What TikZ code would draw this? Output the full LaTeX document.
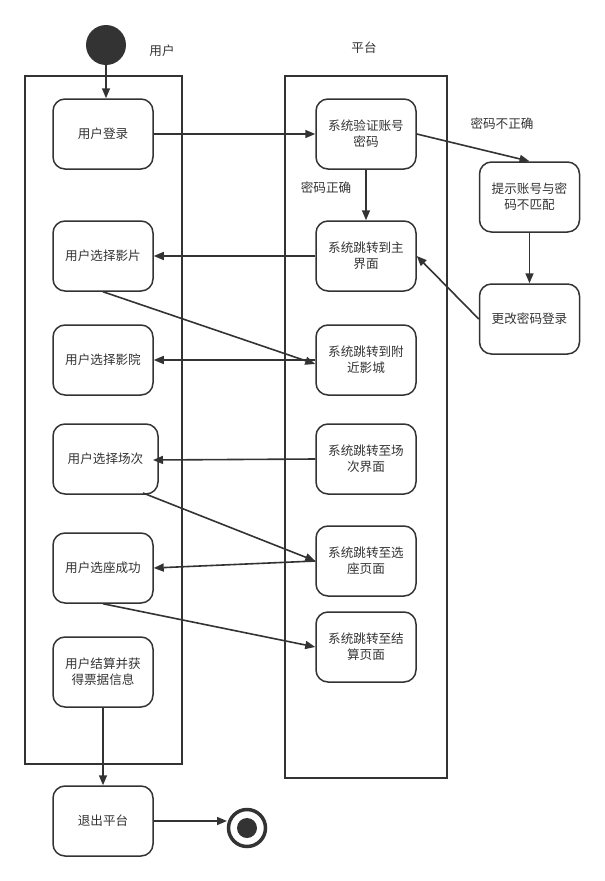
\documentclass[tikz,border=0pt]{standalone}
\usepackage{fontspec}
\newfontfamily\cjk{Noto Sans CJK SC}
\usetikzlibrary{arrows.meta}
\definecolor{ink}{HTML}{333333}
\begin{document}
\begin{tikzpicture}[x=1pt,y=-1pt,
  every node/.style={font=\cjk\fontsize{12.6}{16}\selectfont, text=ink},
  act/.style={draw=ink, line width=1.5pt, rounded corners=12pt, minimum width=100pt, minimum height=70pt, align=center, inner sep=2pt},
  lane/.style={draw=ink, line width=2pt},
  flow/.style={draw=ink, line width=1.6pt, -{Triangle[length=10pt,width=8pt]}},
  lbl/.style={inner sep=0pt}
]
\useasboundingbox (0,0) rectangle (605,881);
% swimlanes
\draw[lane] (25,76) rectangle (182,764);
\draw[lane] (285,76) rectangle (447,778);
\node[lbl] (lu) at (162,51) {用户};
\node[lbl] (lp) at (364,48) {平台};
% start
\node[circle, fill=ink, minimum size=40pt, inner sep=0pt] (start) at (106,45) {};
% user lane
\node[act] (login) at (103,134) {用户登录};
\node[act] (film) at (103,256) {用户选择影片};
\node[act] (cinema) at (103,360) {用户选择影院};
\node[act, minimum width=105pt] (sess) at (105.5,459) {用户选择场次};
\node[act] (seat) at (103,568) {用户选座成功};
\node[act] (pay) at (103,672) {用户结算并获\\得票据信息};
\node[act] (quit) at (103,821) {退出平台};
% platform lane
\node[act] (verify) at (366,134) {系统验证账号\\密码};
\node[act] (main) at (366,256) {系统跳转到主\\界面};
\node[act] (near) at (366,360) {系统跳转到附\\近影城};
\node[act] (sesspg) at (366,459) {系统跳转至场\\次界面};
\node[act] (seatpg) at (366,561) {系统跳转至选\\座页面};
\node[act] (paypg) at (366,647) {系统跳转至结\\算页面};
% outside
\node[act] (mismatch) at (529.5,197) {提示账号与密\\码不匹配};
\node[act] (change) at (529.5,319) {更改密码登录};
% end
\node[circle, draw=ink, line width=3.5pt, minimum size=37pt, inner sep=0pt] (end) at (247,828) {};
\node[circle, fill=ink, minimum size=20pt, inner sep=0pt] (endin) at (end.center) {};
% labels
\node[lbl] (lwrong) at (502,124) {密码不正确};
\node[lbl] (lright) at (326,188) {密码正确};
% flows
\draw[flow] (start) -- (start |- login.north);
\draw[flow] (login.east) -- (verify.west);
\draw[flow] (verify.east) -- (mismatch.north);
\draw[flow] (verify.south) -- (main.north);
\draw[flow] (mismatch.south) -- (change.north);
\draw[flow] (change.west) -- (main.east);
\draw[flow] (main.west) -- (film.east);
\draw[flow] (film.south) -- ([yshift=-4pt]near.west);
\draw[flow] (near.west) -- (cinema.east);
\coordinate (sessin) at (153,460);
\draw[flow] (sesspg.west) -- (sessin);
\coordinate (sessout) at (143,493);
\draw[flow] (sessout) -- (seatpg.west);
\draw[flow] (seatpg.west) -- (seat.east);
\draw[flow] (seat.south) -- (paypg.west);
\draw[flow] (pay.south) -- (quit.north);
\coordinate (endin2) at (227,821);
\draw[flow] (quit.east) -- (endin2);
\end{tikzpicture}
\end{document}
